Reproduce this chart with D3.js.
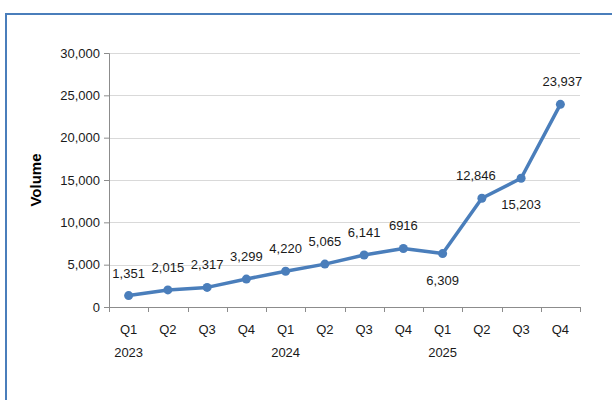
<!DOCTYPE html>
<html>
<head>
<meta charset="utf-8">
<script src="https://cdn.jsdelivr.net/npm/d3@7"></script>
<style>
  html, body { margin: 0; padding: 0; background: #fff; }
  svg { display: block; font-family: "Liberation Sans", Arial, sans-serif; }
</style>
</head>
<body>
<svg id="chart" width="612" height="400"></svg>
<script>
// Quarterly volume, 2023–2025
const quarters = ["Q1", "Q2", "Q3", "Q4", "Q1", "Q2", "Q3", "Q4", "Q1", "Q2", "Q3", "Q4"];
const years = ["2023", "", "", "", "2024", "", "", "", "2025", "", "", ""];
const volumes = [1351, 2015, 2317, 3299, 4220, 5065, 6141, 6916, 6309, 12846, 15203, 23937];
const valueLabels = ["1,351", "2,015", "2,317", "3,299", "4,220", "5,065", "6,141", "6916", "6,309", "12,846", "15,203", "23,937"];
const labelBelow = [false, false, false, false, false, false, false, false, true, false, true, false];
const yTicks = [0, 5000, 10000, 15000, 20000, 25000, 30000];

const svg = d3.select("#chart");
const blue = "#4a7ebb";
const textColor = "#1a1a1a";
const fontSize = "13px";

// outer frame (top and left edges show; the rest runs off the page)
svg.append("rect")
  .attr("x", 6).attr("y", 14)
  .attr("width", 620).attr("height", 400)
  .attr("fill", "none")
  .attr("stroke", blue)
  .attr("stroke-width", 2);

const plotLeft = 109, plotRight = 580, plotTop = 53, plotBottom = 307;
const keys = d3.range(quarters.length);

const x = d3.scaleBand().domain(keys).range([plotLeft, plotRight]);
const y = d3.scaleLinear().domain([0, 30000]).range([plotBottom, plotTop]);

// horizontal gridlines
svg.append("g")
  .selectAll("line")
  .data(yTicks.filter(t => t > 0))
  .join("line")
  .attr("x1", plotLeft).attr("x2", plotRight)
  .attr("y1", d => Math.round(y(d)) + 0.5).attr("y2", d => Math.round(y(d)) + 0.5)
  .attr("stroke", "#d9d9d9")
  .attr("stroke-width", 1);

// y axis
const yAxis = svg.append("g")
  .attr("transform", `translate(${plotLeft},0)`)
  .call(d3.axisLeft(y).tickValues(yTicks).tickFormat(d3.format(",")).tickSize(5).tickPadding(4));
yAxis.attr("font-family", null).attr("font-size", null);
yAxis.select(".domain").attr("stroke", "#8c8c8c");
yAxis.selectAll(".tick line").attr("stroke", "#8c8c8c");
yAxis.selectAll(".tick text")
  .attr("fill", textColor)
  .style("font-size", fontSize);

// x axis line and tick marks at band edges
const xAxisG = svg.append("g");
xAxisG.append("line")
  .attr("x1", plotLeft).attr("x2", plotRight)
  .attr("y1", plotBottom + 0.5).attr("y2", plotBottom + 0.5)
  .attr("stroke", "#8c8c8c");
xAxisG.selectAll("line.tk")
  .data(keys.concat([keys.length]))
  .join("line")
  .attr("class", "tk")
  .attr("x1", d => Math.round(plotLeft + d * x.step()) + 0.5)
  .attr("x2", d => Math.round(plotLeft + d * x.step()) + 0.5)
  .attr("y1", plotBottom).attr("y2", plotBottom + 5)
  .attr("stroke", "#8c8c8c");

// quarter and year labels
svg.append("g")
  .selectAll("text")
  .data(keys)
  .join("text")
  .attr("x", d => x(d) + x.bandwidth() / 2)
  .attr("y", 334)
  .attr("text-anchor", "middle")
  .attr("fill", textColor)
  .style("font-size", fontSize)
  .text(d => quarters[d]);

svg.append("g")
  .selectAll("text")
  .data(keys.filter(d => years[d]))
  .join("text")
  .attr("x", d => x(d) + x.bandwidth() / 2)
  .attr("y", 357)
  .attr("text-anchor", "middle")
  .attr("fill", textColor)
  .style("font-size", fontSize)
  .text(d => years[d]);

// y axis title
svg.append("text")
  .attr("transform", "translate(41,180) rotate(-90)")
  .attr("text-anchor", "middle")
  .attr("fill", "#000")
  .style("font-size", "15px")
  .style("font-weight", "bold")
  .text("Volume");

// series line
const cx = d => x(d) + x.bandwidth() / 2;
svg.append("path")
  .datum(keys)
  .attr("fill", "none")
  .attr("stroke", blue)
  .attr("stroke-width", 3.5)
  .attr("stroke-linejoin", "round")
  .attr("d", d3.line().x(cx).y(d => y(volumes[d])));

// markers
svg.append("g")
  .selectAll("circle")
  .data(keys)
  .join("circle")
  .attr("cx", cx)
  .attr("cy", d => y(volumes[d]))
  .attr("r", 4.5)
  .attr("fill", blue);

// value labels
const labelDx = d => (d === 9 ? -6 : (d === 11 ? 2 : 0));
svg.append("g")
  .selectAll("text")
  .data(keys)
  .join("text")
  .attr("x", d => cx(d) + labelDx(d))
  .attr("y", d => y(volumes[d]) + (labelBelow[d] ? 31 : -18))
  .attr("text-anchor", "middle")
  .attr("fill", textColor)
  .style("font-size", fontSize)
  .text(d => valueLabels[d]);
</script>
</body>
</html>
